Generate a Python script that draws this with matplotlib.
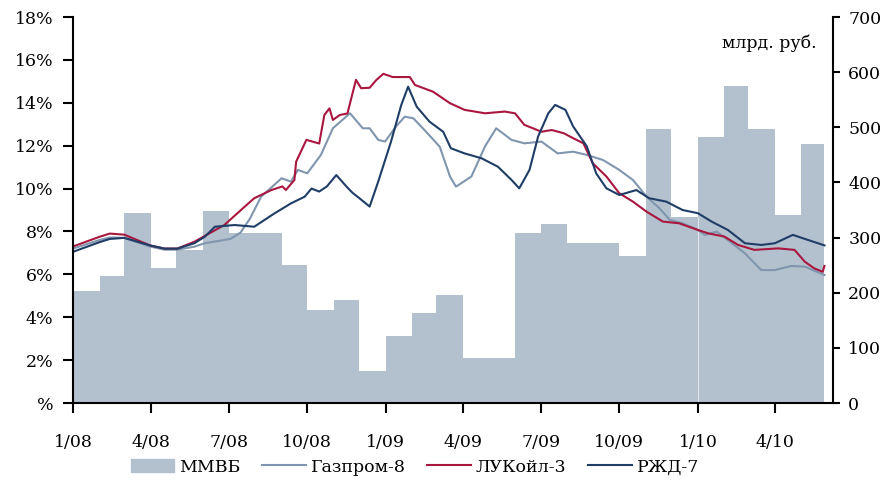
# bond yields (Gazprom-8, LUKoil-3, RZD-7) against MICEX monthly bond turnover
import pandas as pd
import matplotlib
matplotlib.use('Agg')
import matplotlib.pyplot as plt
from matplotlib.patches import Patch
from matplotlib.lines import Line2D

plt.rcParams['font.family'] = ['DejaVu Serif']
plt.rcParams['font.size'] = 12.5

# MICEX turnover by month, bn rub (Jan 2008 .. May 2010)
micex_months = pd.date_range('2008-01-01', '2010-05-01', freq='MS')
micex_vals = [203, 230, 345, 245, 277, 348, 308, 308, 250, 169, 187, 58,
              122, 163, 196, 82, 82, 308, 324, 291, 291, 267, 496, 338,
              483, 574, 496, 341, 469]
micex_end = '2010-05-29'

# yields, %
gaz_dates = ['2008-01-01', '2008-02-01', '2008-02-13', '2008-03-01', '2008-03-31',
             '2008-04-17', '2008-05-02', '2008-05-22', '2008-06-03', '2008-07-03',
             '2008-07-15', '2008-07-26', '2008-08-08', '2008-09-01', '2008-09-12',
             '2008-09-20', '2008-10-01', '2008-10-17', '2008-10-31', '2008-11-20',
             '2008-12-05', '2008-12-13', '2008-12-23', '2008-12-31', '2009-01-13',
             '2009-01-23', '2009-02-02', '2009-02-17', '2009-03-05', '2009-03-17',
             '2009-03-24', '2009-04-11', '2009-04-27', '2009-05-10', '2009-05-28',
             '2009-06-12', '2009-07-02', '2009-07-21', '2009-08-08', '2009-08-24',
             '2009-09-12', '2009-10-01', '2009-10-17', '2009-11-02', '2009-11-17',
             '2009-11-29', '2009-12-14', '2010-01-01', '2010-01-09', '2010-01-23',
             '2010-02-05', '2010-02-25', '2010-03-16', '2010-04-01', '2010-04-20',
             '2010-05-06', '2010-05-29']
gaz_vals = [7.20, 7.60, 7.72, 7.70, 7.30,
            7.15, 7.15, 7.29, 7.45, 7.65,
            7.95, 8.60, 9.62, 10.48, 10.32,
            10.87, 10.71, 11.57, 12.81, 13.51,
            12.81, 12.81, 12.27, 12.19, 12.90,
            13.35, 13.28, 12.65, 11.95, 10.56,
            10.09, 10.56, 11.97, 12.81, 12.27,
            12.11, 12.19, 11.64, 11.72, 11.57,
            11.33, 10.87, 10.40, 9.62, 9.08,
            8.54, 8.38, 8.07, 7.84, 7.99,
            7.60, 6.98, 6.20, 6.20, 6.39,
            6.36, 5.97]

luk_dates = ['2008-01-01', '2008-02-01', '2008-02-13', '2008-03-01', '2008-03-31',
             '2008-04-17', '2008-05-02', '2008-05-22', '2008-06-26', '2008-07-20',
             '2008-07-31', '2008-08-20', '2008-09-02', '2008-09-06', '2008-09-16',
             '2008-09-18', '2008-09-30', '2008-10-15', '2008-10-21', '2008-10-27',
             '2008-10-31', '2008-11-08', '2008-11-17', '2008-11-27', '2008-12-03',
             '2008-12-13', '2008-12-21', '2008-12-29', '2009-01-09', '2009-01-29',
             '2009-02-04', '2009-02-25', '2009-03-17', '2009-04-03', '2009-04-27',
             '2009-05-20', '2009-06-01', '2009-06-12', '2009-07-02', '2009-07-14',
             '2009-07-28', '2009-08-08', '2009-08-20', '2009-08-31', '2009-09-16',
             '2009-10-01', '2009-10-17', '2009-11-02', '2009-11-21', '2009-12-10',
             '2010-01-01', '2010-01-13', '2010-02-01', '2010-02-17', '2010-03-08',
             '2010-04-05', '2010-04-24', '2010-05-06', '2010-05-17', '2010-05-27',
             '2010-05-29']
luk_vals = [7.30, 7.75, 7.90, 7.85, 7.35,
            7.20, 7.20, 7.52, 8.30, 9.16,
            9.55, 9.93, 10.10, 9.93, 10.40,
            11.25, 12.27, 12.10, 13.43, 13.74,
            13.20, 13.43, 13.50, 15.07, 14.68,
            14.70, 15.07, 15.35, 15.20, 15.20,
            14.83, 14.52, 13.98, 13.67, 13.51,
            13.59, 13.51, 12.97, 12.65, 12.73,
            12.58, 12.35, 12.11, 11.18, 10.56,
            9.78, 9.39, 8.92, 8.46, 8.38,
            8.07, 7.91, 7.76, 7.37, 7.14,
            7.21, 7.14, 6.59, 6.28, 6.12,
            6.39]

rzd_dates = ['2008-01-01', '2008-02-01', '2008-02-13', '2008-03-01', '2008-03-31',
             '2008-04-17', '2008-05-02', '2008-05-22', '2008-06-03', '2008-06-15',
             '2008-07-08', '2008-07-31', '2008-08-24', '2008-09-12', '2008-09-28',
             '2008-10-06', '2008-10-15', '2008-10-24', '2008-11-04', '2008-11-16',
             '2008-11-23', '2008-12-01', '2008-12-13', '2008-12-23', '2009-01-07',
             '2009-01-19', '2009-01-27', '2009-02-06', '2009-02-21', '2009-03-09',
             '2009-03-18', '2009-04-03', '2009-04-23', '2009-05-12', '2009-05-28',
             '2009-06-06', '2009-06-18', '2009-06-28', '2009-07-10', '2009-07-18',
             '2009-07-30', '2009-08-08', '2009-08-24', '2009-09-04', '2009-09-16',
             '2009-10-01', '2009-10-21', '2009-11-05', '2009-11-25', '2009-12-14',
             '2010-01-01', '2010-01-17', '2010-02-05', '2010-02-25', '2010-03-16',
             '2010-04-01', '2010-04-22', '2010-05-10', '2010-05-29']
rzd_vals = [7.05, 7.50, 7.65, 7.70, 7.35,
            7.20, 7.20, 7.45, 7.75, 8.22,
            8.30, 8.22, 8.85, 9.31, 9.62,
            10.00, 9.86, 10.10, 10.63, 10.09,
            9.80, 9.55, 9.16, 10.32, 12.19,
            13.90, 14.75, 13.82, 13.12, 12.65,
            11.88, 11.64, 11.41, 11.02, 10.40,
            10.01, 10.87, 12.42, 13.51, 13.90,
            13.67, 12.90, 11.97, 10.71, 10.01,
            9.70, 9.93, 9.55, 9.39, 9.00,
            8.85, 8.46, 8.07, 7.45, 7.37,
            7.45, 7.84, 7.60, 7.35]

names = ['ММВБ', 'Газпром-8', 'ЛУКойл-3', 'РЖД-7']
colors = ['#B3C0CD', '#7F96AE', '#A9173F', '#1F3D66']

tick_dates = pd.date_range('2008-01-01', '2010-04-01', freq='QS')
tick_labels = [f'{d.month}/{d:%y}' for d in tick_dates]
pct_ticks = list(range(0, 19, 2))
pct_labels = ['%'] + [f'{t}%' for t in pct_ticks[1:]]
vol_ticks = list(range(0, 701, 100))


fig = plt.figure(figsize=(8.84, 4.82), dpi=100)
ax = fig.add_axes([73 / 884, 79 / 482, 760 / 884, 386 / 482])
ax2 = ax.twinx()

# turnover area on the right axis, drawn behind the yield lines
area_x = list(micex_months) + [pd.Timestamp(micex_end)]
area_y = micex_vals + [micex_vals[-1]]
ax2.fill_between(area_x, area_y, step='post', color=colors[0], lw=0)
ax2.vlines(pd.Timestamp('2010-01-01'), 0, min(micex_vals[23], micex_vals[24]),
           color='white', lw=0.8, alpha=0.6)
ax.set_zorder(ax2.get_zorder() + 1)
ax.patch.set_visible(False)

for d, v, c in [(gaz_dates, gaz_vals, colors[1]),
                (luk_dates, luk_vals, colors[2]),
                (rzd_dates, rzd_vals, colors[3])]:
    ax.plot(pd.to_datetime(d), v, color=c, lw=1.5)

ax.set_xlim(pd.Timestamp('2008-01-01'), pd.Timestamp('2010-06-08'))
ax.set_ylim(0, 18)
ax2.set_ylim(0, 700)

ax.set_xticks(tick_dates)
ax.set_xticklabels(tick_labels)
ax.set_yticks(pct_ticks)
ax.set_yticklabels(pct_labels)
ax2.set_yticks(vol_ticks)

for s in ['top', 'right']:
    ax.spines[s].set_visible(False)
for s in ['top', 'left', 'bottom']:
    ax2.spines[s].set_visible(False)
ax.spines['left'].set_linewidth(1.5)
ax.spines['bottom'].set_linewidth(1.5)
ax2.spines['right'].set_linewidth(1.5)

ax.tick_params(axis='x', direction='out', length=7, width=1.5, pad=15)
ax.tick_params(axis='y', direction='out', length=7, width=1.5, pad=7)
ax2.tick_params(axis='y', direction='out', length=5, width=1.5, pad=6)

fig.text(817 / 884, 1 - 43 / 482, 'млрд. руб.', ha='right', va='center')

handles = [Patch(color=colors[0])] + [Line2D([], [], color=c, lw=1.5) for c in colors[1:]]
fig.legend(handles, names, loc='center', bbox_to_anchor=(415 / 884, 1 - 467 / 482),
           ncol=4, frameon=False, handlelength=2.5, handleheight=0.75,
           handletextpad=0.3, columnspacing=1.25, borderpad=0)

fig.savefig('out.png', dpi=100)
